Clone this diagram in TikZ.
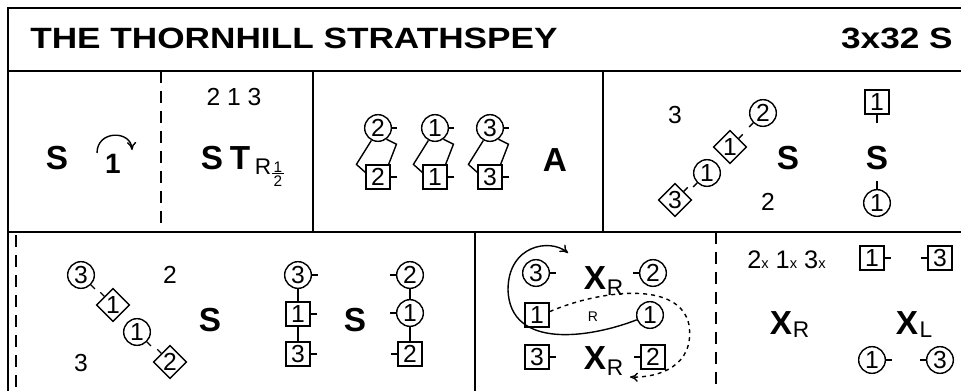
\documentclass[tikz,border=0pt]{standalone}
\usepackage{fontspec}
\setmainfont{Liberation Sans}
\newfontfamily\titlefont[FakeStretch=1.2]{Liberation Sans}
\usetikzlibrary{shapes.geometric,arrows.meta}

\tikzset{
  bar/.style={line width=1.5pt},
  dbar/.style={line width=1.2pt,dash pattern=on 9pt off 6pt},
  tk/.style={line width=1.05pt},
  dcirc/.style={draw,circle,line width=1.05pt,minimum size=20pt,inner sep=0pt,font=\fontsize{18.5}{18.5}\selectfont},
  dsq/.style={draw,rectangle,line width=1.05pt,minimum size=18pt,inner sep=0pt,font=\fontsize{18.5}{18.5}\selectfont},
  ddia/.style={draw,diamond,line width=1.05pt,minimum size=25pt,inner sep=0pt,font=\fontsize{18.5}{18.5}\selectfont},
  title/.style={inner sep=0pt,font=\titlefont\fontsize{22}{22}\bfseries\selectfont},
  fig/.style={inner sep=0pt,font=\fontsize{25}{25}\bfseries\selectfont},
  fign/.style={inner sep=0pt,font=\fontsize{21}{21}\bfseries\selectfont},
  lbl/.style={inner sep=0pt,font=\fontsize{18.5}{18.5}\selectfont},
  sub/.style={inner sep=0pt,font=\fontsize{17}{17}\selectfont},
  frac/.style={inner sep=0.8pt,font=\fontsize{11.5}{11.5}\selectfont},
}

\begin{document}
\begin{tikzpicture}[x=0.75pt,y=-0.75pt,>={To[length=6pt,width=7pt]}]
  \useasboundingbox (0,0) rectangle (961,390);
  \clip (0,0) rectangle (961,390);

  \draw[bar] (980,8) -- (8,8) -- (8,400);
  \draw[bar] (8,71) -- (980,71);
  \draw[bar] (8,232) -- (980,232);
  \draw[dbar] (161,71) -- (161,232);
  \draw[bar] (313,71) -- (313,232);
  \draw[bar] (603,71) -- (603,232);
  \draw[dbar] (16,235) -- (16,400);
  \draw[bar] (475,232) -- (475,400);
  \draw[dbar] (716,232) -- (716,400);

  \node[title,anchor=west] (name) at (30,38) {THE THORNHILL STRATHSPEY};
  \node[title,anchor=east] (form) at (953,38) {3x32 S};

  \node[fig] (set1) at (57,158) {S};
  \node[fign] (turn) at (113,164) {1};
  \draw[tk,->] (97,153) .. controls (97,130) and (131,130) .. (132,150);

  \node[lbl] (order) at (234,97) {2 1 3};
  \node[fig] (set2) at (212,158) {S};
  \node[fig] (tpo) at (240,158) {T};
  \node[sub] (tr) at (263,167) {R};
  \node[frac] (half1) at (278,167) {1};
  \node[frac] (half2) at (278,181) {2};
  \draw[line width=0.6pt] (half1.south west) -- (half1.south east);

  \foreach \n/\x in {2/378,1/435,3/490}{
    \node[dcirc] (a\n) at (\x,128) {\n};
    \node[dsq] (b\n) at (\x,177) {\n};
    \draw[tk] (a\n.east) -- ++(5,0);
    \draw[tk] (b\n.east) -- ++(6,0);
    \draw[tk] (a\n.-118) -- ++(-15,24) -- (b\n.160);
    \draw[tk] (a\n.-53) -- ++(10,5) -- (b\n.50);
  }
  \node[fig] (alle) at (555,160) {A};

  \node[lbl] (p3) at (675,115) {3};
  \node[dcirc] (c2) at (763,113) {2};
  \node[ddia] (d1) at (730,147) {1};
  \node[dcirc] (c1) at (707,173) {1};
  \node[ddia] (d3) at (675,200) {3};
  \node[lbl] (p2) at (768,202) {2};
  \draw[tk] (c2.-135) -- ++(-4,4);
  \draw[tk] (d1.north east) -- ++(4,-4);
  \draw[tk] (c1.-135) -- ++(-4,4);
  \draw[tk] (d3.north east) -- ++(4,-4);
  \node[fig] (set3) at (788,158) {S};
  \node[dsq] (q1) at (877,102) {1};
  \node[fig] (set4) at (877,158) {S};
  \node[dcirc] (e1) at (877,203) {1};
  \draw[tk] (q1.south) -- ++(0,8);
  \draw[tk] (e1.north) -- ++(0,-8);

  \node[dcirc] (f3) at (81,275) {3};
  \node[ddia] (g1) at (113,305) {1};
  \node[dcirc] (f1) at (137,332) {1};
  \node[ddia] (g2) at (170,362) {2};
  \node[lbl] (r2) at (170,275) {2};
  \node[lbl] (r3) at (81,363) {3};
  \draw[tk] (f3.-45) -- ++(4,4);
  \draw[tk] (g1.north west) -- ++(-4,-4);
  \draw[tk] (f1.-45) -- ++(4,4);
  \draw[tk] (g2.north west) -- ++(-4,-4);
  \node[fig] (set5) at (210,320) {S};

  \node[dcirc] (h3) at (298,275) {3};
  \node[dsq] (k1) at (298,314) {1};
  \node[dsq] (k3) at (298,354) {3};
  \draw[bar] (h3) -- (k1) -- (k3);
  \draw[tk] (h3.east) -- ++(6,0);
  \draw[tk] (k1.east) -- ++(6,0);
  \draw[tk] (k3.east) -- ++(6,0);
  \node[fig] (set6) at (355,320) {S};
  \node[dcirc] (m2) at (410,275) {2};
  \node[dcirc] (m1) at (410,313) {1};
  \node[dsq] (n2) at (410,354) {2};
  \draw[bar] (m2) -- (m1) -- (n2);
  \draw[tk] (m2.west) -- ++(-6,0);
  \draw[tk] (m1.west) -- ++(-6,0);
  \draw[tk] (n2.west) -- ++(-6,0);

  \node[dcirc] (u3) at (536,273) {3};
  \node[fig] (x1) at (595,278) {X};
  \node[sub] (x1r) at (615,288) {R};
  \node[dcirc] (u2) at (653,273) {2};
  \node[dsq] (v1) at (537,315) {1};
  \node[sub,font=\fontsize{10.5}{10.5}\selectfont] (rr) at (593,317) {R};
  \node[dcirc] (w1) at (650,315) {1};
  \node[dsq] (v3) at (537,357) {3};
  \node[fig] (x2) at (595,358) {X};
  \node[sub] (x2r) at (615,368) {R};
  \node[dsq] (v2) at (653,357) {2};
  \draw[tk] (u3.east) -- ++(6,0);
  \draw[tk] (u2.west) -- ++(-6,0);
  \draw[tk] (v3.east) -- ++(6,0);
  \draw[tk] (v2.west) -- ++(-6,0);
  \draw[tk,->] (w1.200) .. controls (590,338) and (510,350) .. (508,290) .. controls (508,245) and (550,238) .. (568,253);
  \draw[tk,dashed,->] (v1.15) .. controls (600,290) and (680,280) .. (689,325) .. controls (695,365) and (660,378) .. (630,377);

  \node[lbl,anchor=west,font=\fontsize{19}{19}\selectfont] (cross) at (747,260) {2{\fontsize{11}{11}\selectfont x} 1{\fontsize{11}{11}\selectfont x} 3{\fontsize{11}{11}\selectfont x}};
  \node[dsq] (y1) at (872,258) {1};
  \node[dsq] (y3) at (940,258) {3};
  \draw[tk] (y1.east) -- ++(6,0);
  \draw[tk] (y3.west) -- ++(-6,0);
  \node[fig] (x3) at (781,323) {X};
  \node[sub] (x3r) at (801,330) {R};
  \node[fig] (x4) at (907,323) {X};
  \node[sub] (x4l) at (926,330) {L};
  \node[dcirc] (z1) at (872,360) {1};
  \node[dcirc] (z3) at (940,360) {3};
  \draw[tk] (z1.east) -- ++(6,0);
  \draw[tk] (z3.west) -- ++(-6,0);
\end{tikzpicture}
\end{document}
